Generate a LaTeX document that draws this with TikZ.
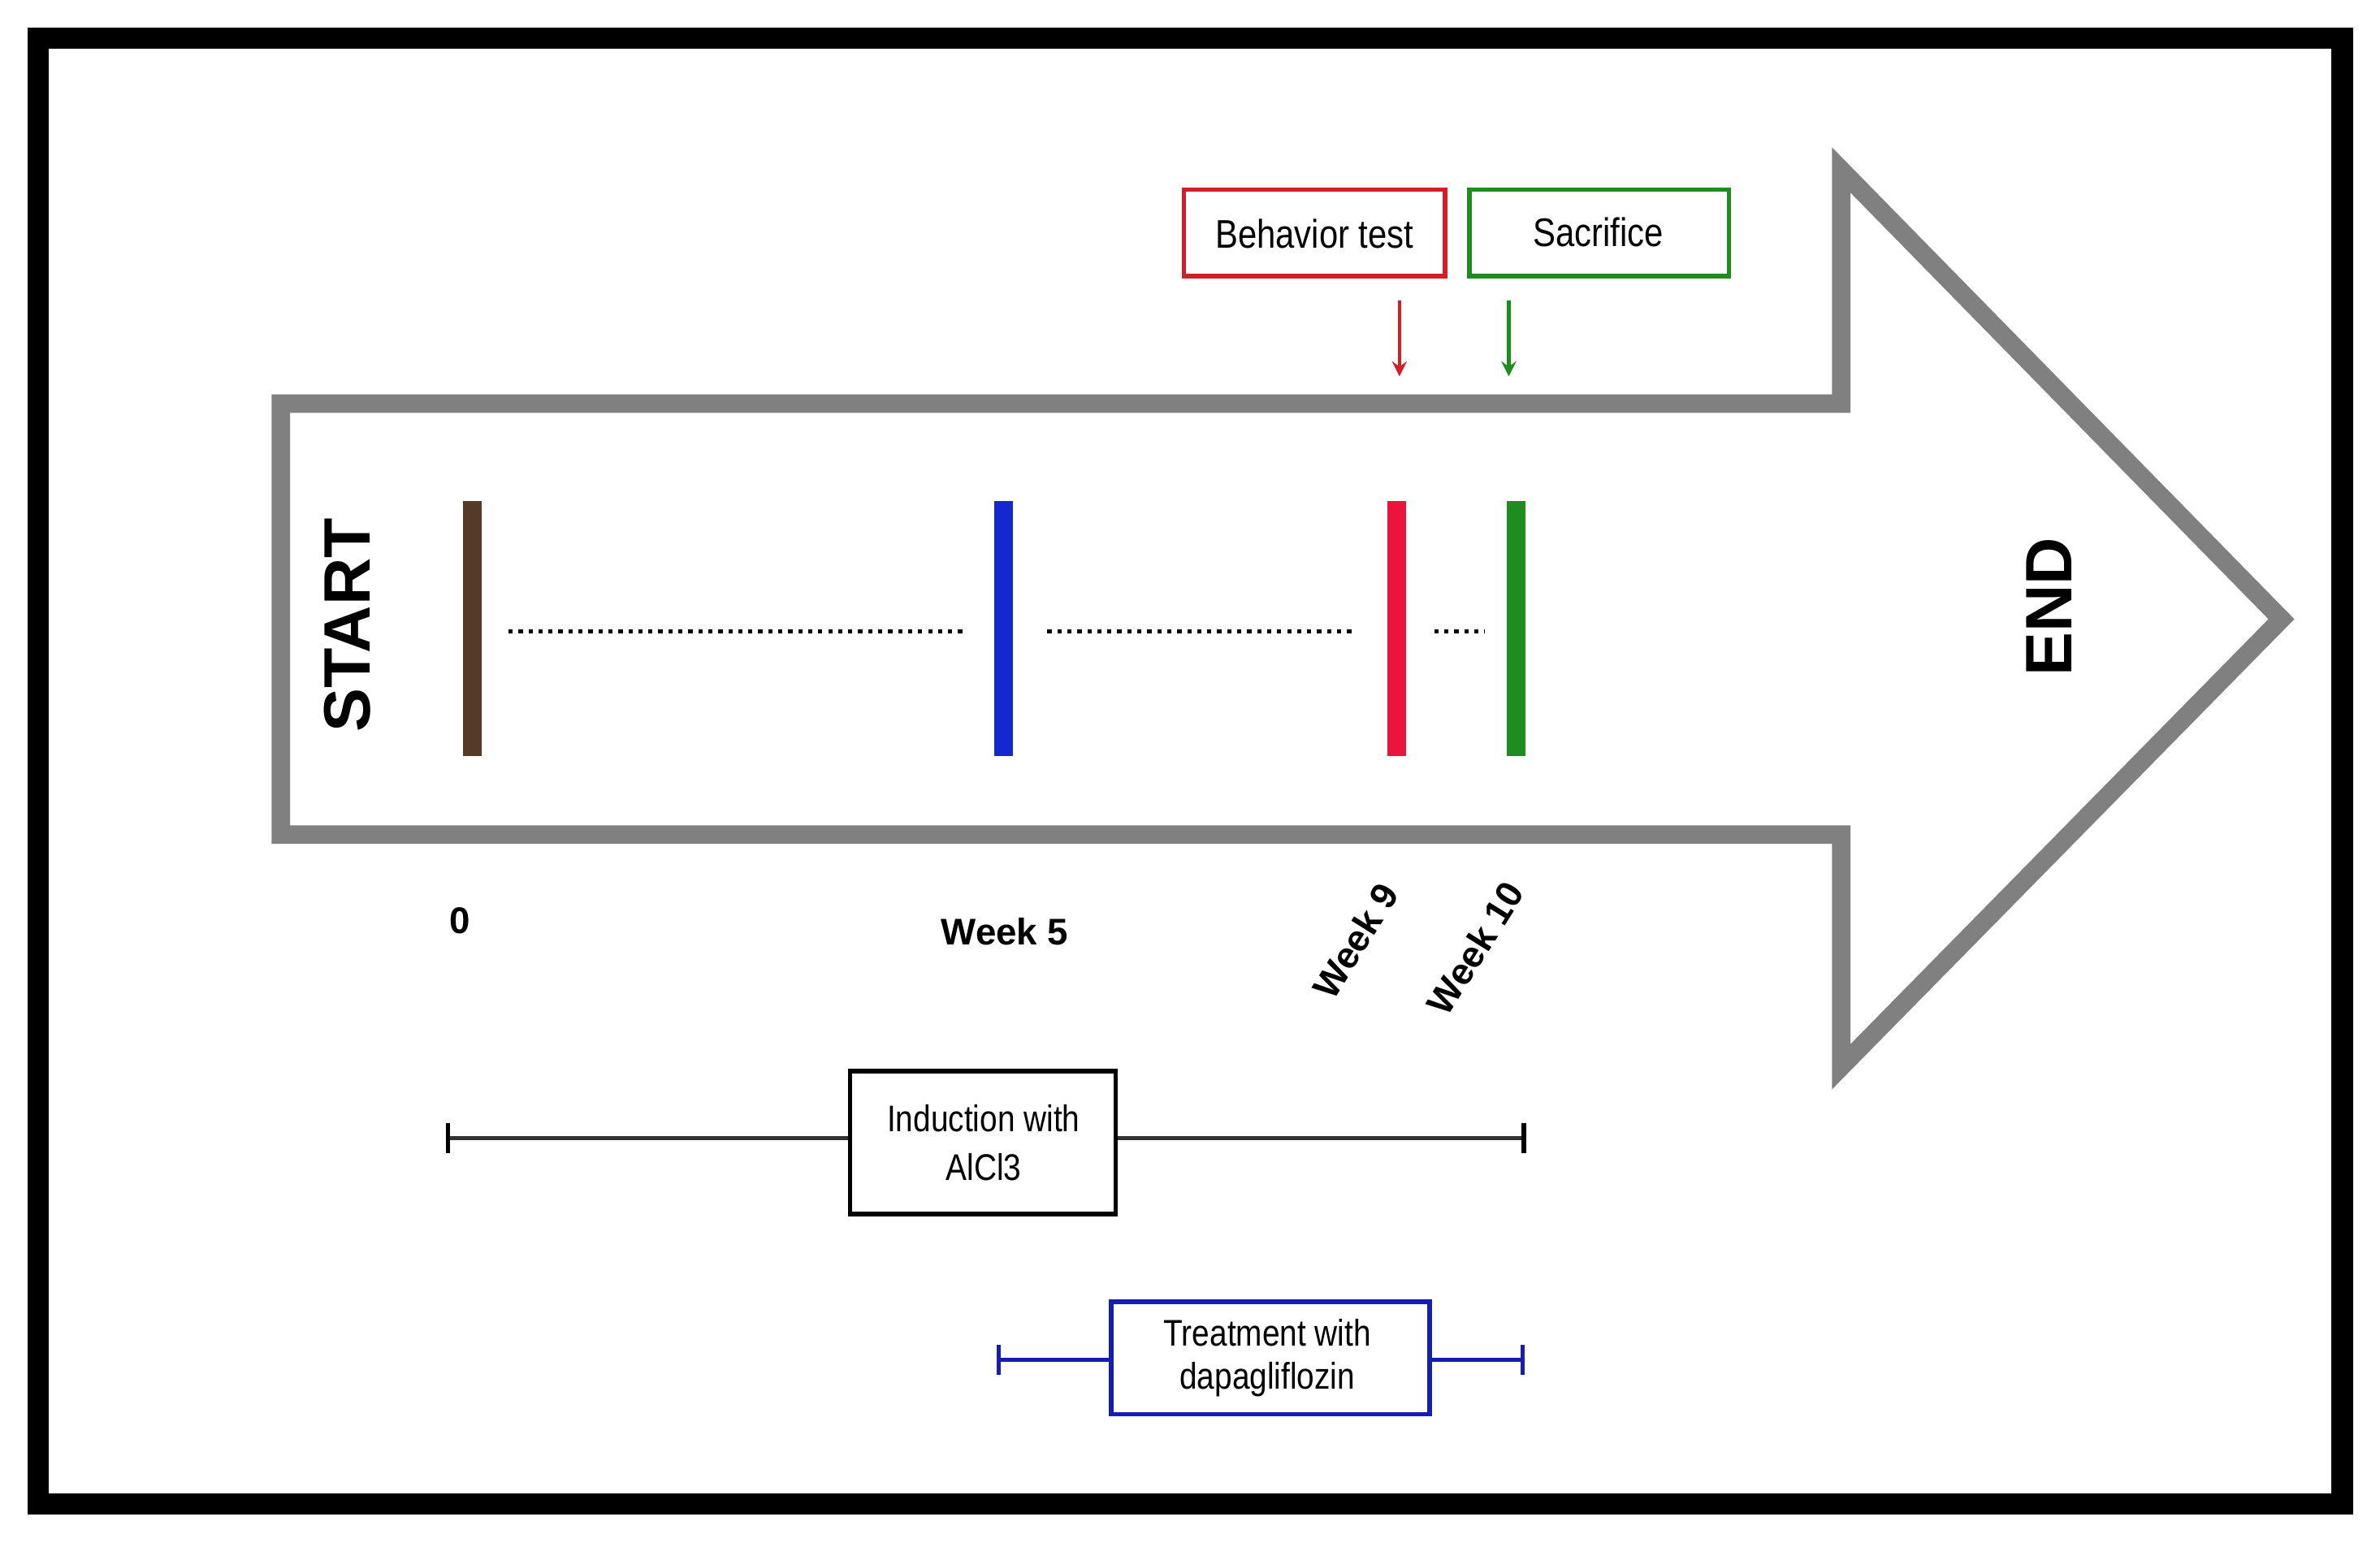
\documentclass[tikz,border=0pt]{standalone}
\usepackage{fontspec}
\setmainfont{Liberation Sans}
\begin{document}
\begin{tikzpicture}[x=0.018686cm,y=-0.018686cm,
  lbl/.style={font=\fontsize{13}{14}\selectfont\bfseries},
  txt/.style={font=\fontsize{14}{16}\selectfont,align=center,xscale=0.85},
  bar/.style={line width=6.5pt},
  dots/.style={line width=1.5pt,dotted},
  rng/.style={line width=1.5pt}]
\definecolor{cred}{RGB}{210,30,40}
\definecolor{cgreen}{RGB}{30,140,30}
\definecolor{cblue}{RGB}{20,30,180}
\useasboundingbox (0,0) rectangle (1568,1019);
\draw[line width=7.5pt] (25,25) rectangle (1543,991);
\draw[color={rgb,255:red,128;green,128;blue,128},line width=6.5pt]
  (185,266) -- (1213,266) -- (1213,112) -- (1503,408) -- (1213,703) -- (1213,550) -- (185,550) -- cycle;
\node[rotate=90,font=\fontsize{23}{24}\selectfont\bfseries] (start) at (229,412) {START};
\node[rotate=90,font=\fontsize{23}{24}\selectfont\bfseries] (end) at (1350,400) {END};
\draw[bar,color={rgb,255:red,85;green,58;blue,40}] (311,330) -- (311,498);
\draw[bar,color={rgb,255:red,20;green,40;blue,210}] (661,330) -- (661,498);
\draw[bar,color={rgb,255:red,235;green,20;blue,60}] (920,330) -- (920,498);
\draw[bar,color={rgb,255:red,30;green,140;blue,30}] (999,330) -- (999,498);
\draw[dots] (335,416) -- (636,416);
\draw[dots] (690,416) -- (893,416);
\draw[dots] (945,416) -- (978,416);
\node[lbl] (w0) at (303,607) {0};
\node[lbl] (w5) at (662,614) {Week 5};
\node[lbl,rotate=58,inner sep=0pt] (w9) at (893,620) {Week 9};
\node[lbl,rotate=58,inner sep=0pt] (w10) at (972,625) {Week 10};
\draw[line width=1.6pt,cred] (780,125) rectangle (952,182);
\node[txt] (bt) at (866,154) {Behavior test};
\draw[line width=1.6pt,cgreen] (968,125) rectangle (1139,182);
\node[txt] (sac) at (1053,153) {Sacrifice};
\coordinate (ra) at (922,198); \coordinate (rb) at (922,248);
\coordinate (ga) at (994,198); \coordinate (gb) at (994,248);
\draw[-stealth,line width=1.3pt,cred] (ra) -- (rb);
\draw[-stealth,line width=1.3pt,cgreen] (ga) -- (gb);
\draw[rng,color={rgb,255:red,50;green,50;blue,50}] (295,750) -- (1004,750);
\draw[rng] (295,740) -- (295,760); \draw[rng] (1004,740) -- (1004,760);
\draw[line width=1.6pt,fill=white] (560,706) rectangle (735,800);
\node[txt,font=\fontsize{13}{17}\selectfont] (ind) at (648,753) {Induction with\\AlCl3};
\draw[rng,cblue] (658,896) -- (1003,896);
\draw[rng,cblue] (658,886) -- (658,906);
\draw[rng,cblue] (1003,886) -- (1003,906);
\draw[line width=1.6pt,draw=cblue,fill=white] (732,858) rectangle (942,932);
\node[txt,font=\fontsize{13}{15}\selectfont] (trt) at (835,895) {Treatment with\\dapagliflozin};
\end{tikzpicture}
\end{document}
